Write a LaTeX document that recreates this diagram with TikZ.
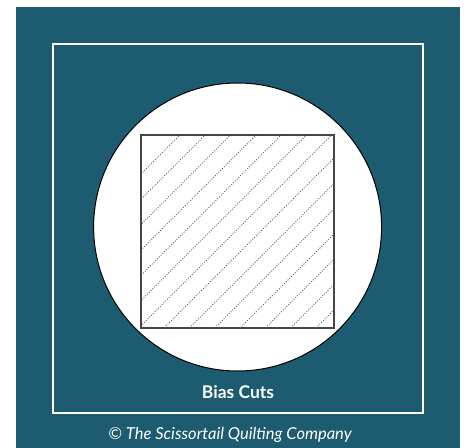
\documentclass[tikz,border=0pt]{standalone}
\usepackage{fontspec}
\setmainfont{Lato}
\definecolor{teal}{RGB}{29,91,112}
\definecolor{edgegray}{RGB}{70,70,70}
\begin{document}
\begin{tikzpicture}[x=1pt,y=-1pt,
  frame/.style={draw=white,line width=2.4pt},
  disc/.style={draw=black,fill=white,line width=1pt},
  fabric/.style={draw=edgegray,line width=1.1pt},
  biasline/.style={draw=gray!70!black,dash pattern=on 0.9pt off 1.6pt,line width=0.9pt},
  caption/.style={text=white,font=\bfseries\fontsize{17.5}{20}\selectfont},
  credit/.style={text=white,font=\itshape\fontsize{16.5}{20}\selectfont}]
\useasboundingbox (0,0) rectangle (467,448);
\fill[teal] (16,7) rectangle (460,448);
\draw[frame] (53,44) rectangle (423,413);
\node[disc,circle,minimum size=288pt,inner sep=0pt] (disc) at (237.6,227) {};
\node[fabric,rectangle,minimum width=193pt,minimum height=193pt,inner sep=0pt] (sq) at (237.5,231.5) {};
\begin{scope}
\clip ([shift={(1.5,-1.5)}]sq.south west) rectangle ([shift={(-1.5,1.5)}]sq.north east);
\foreach \k in {0,...,13}{
  \pgfmathsetmacro{\c}{315+25.3*\k}
  \draw[biasline] (\c-335,335) -- (\c-128,128);
}
\end{scope}
\node[caption] (cap) at (238,392) {Bias Cuts};
\node[credit] (cr) at (230,435) {© The Scissortail Quilting Company};
\end{tikzpicture}
\end{document}
